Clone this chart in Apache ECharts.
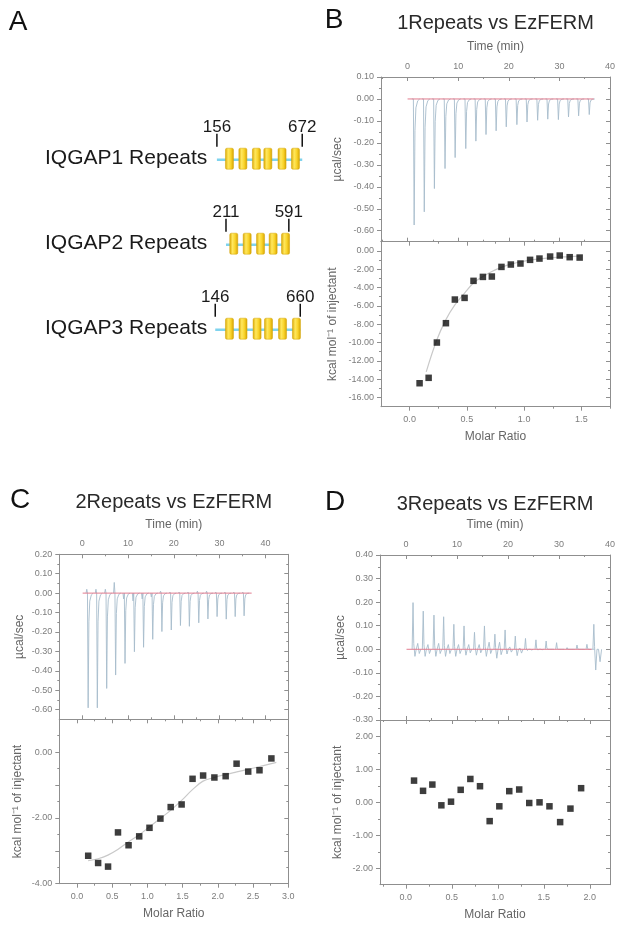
<!DOCTYPE html>
<html><head><meta charset="utf-8">
<script src="https://cdn.jsdelivr.net/npm/echarts@6/dist/echarts.min.js"></script>
<style>html,body{margin:0;padding:0;background:#fff}#c{width:624px;height:928px}</style>
</head><body><div id="c"></div>
<script>
// ---------- Panel A data ----------
const aProteins = ['IQGAP1 Repeats', 'IQGAP2 Repeats', 'IQGAP3 Repeats'];
const aStart = [156, 211, 146];
const aEnd = [672, 591, 660];
const aRepeats = [[232, 313, 395, 464, 550, 631], [258, 339, 420, 496, 571], [232, 314, 399, 468, 553, 637]];

// ---------- Panel B data ----------
const bTime = [1.2, 3.2, 5.2, 7.3, 9.3, 11.4, 13.4, 15.4, 17.4, 19.4, 21.5, 23.5, 25.6, 27.6, 29.7, 31.7, 33.7, 35.8];
const bPeak = [-0.574, -0.514, -0.408, -0.317, -0.267, -0.226, -0.192, -0.162, -0.145, -0.127, -0.117, -0.105, -0.097, -0.092, -0.094, -0.082, -0.077, -0.071];
const bBaseline = [0, 36.8];
const bRatio = [0.087, 0.166, 0.238, 0.317, 0.395, 0.480, 0.558, 0.640, 0.718, 0.802, 0.884, 0.968, 1.052, 1.134, 1.227, 1.311, 1.398, 1.485];
const bHeat = [-14.44, -13.85, -10.0, -7.89, -5.31, -5.13, -3.27, -2.84, -2.80, -1.75, -1.49, -1.38, -0.98, -0.84, -0.62, -0.51, -0.69, -0.73];
const bFitX = [0.145, 0.238, 0.317, 0.395, 0.48, 0.558, 0.64, 0.718, 0.80, 0.884, 0.968, 1.05, 1.134, 1.227, 1.311, 1.398, 1.485];
const bFitY = [-13.2, -9.7, -7.5, -5.9, -4.6, -3.5, -2.8, -2.25, -1.8, -1.45, -1.2, -1.0, -0.87, -0.76, -0.69, -0.62, -0.58];

// ---------- Panel C data ----------
const cTime = [1.2, 3.2, 5.25, 7.2, 9.25, 11.3, 13.3, 15.3, 17.3, 19.35, 21.35, 23.3, 25.35, 27.35, 29.35, 31.35, 33.3, 35.25];
const cPeak = [-0.591, -0.591, -0.491, -0.422, -0.362, -0.302, -0.279, -0.238, -0.198, -0.190, -0.167, -0.171, -0.153, -0.133, -0.121, -0.134, -0.121, -0.117];
const cPre = [0.02, 0.02, 0.02, 0.055, -0.03, -0.04, -0.03, -0.02, 0.01, 0.005, 0.005, 0.005, 0.01, 0.01, 0.005, 0.005, 0.005, 0.005];
const cBaseline = [0.1, 37.0];
const cRatio = [0.160, 0.301, 0.442, 0.583, 0.733, 0.884, 1.030, 1.185, 1.331, 1.486, 1.641, 1.791, 1.951, 2.111, 2.266, 2.431, 2.591, 2.760];
const cHeat = [-3.15, -3.37, -3.48, -2.44, -2.83, -2.56, -2.30, -2.02, -1.67, -1.59, -0.81, -0.71, -0.77, -0.73, -0.35, -0.59, -0.55, -0.19];
const cFitX = [0.16, 0.30, 0.44, 0.58, 0.73, 0.88, 1.03, 1.18, 1.33, 1.49, 1.64, 1.79, 1.95, 2.11, 2.27, 2.43, 2.59, 2.76, 2.83];
const cFitY = [-3.30, -3.24, -3.13, -2.96, -2.73, -2.52, -2.27, -2.02, -1.77, -1.46, -1.14, -0.88, -0.77, -0.68, -0.60, -0.52, -0.44, -0.35, -0.31];

// ---------- Panel D data ----------
const dTime = [1.3, 3.3, 5.4, 7.3, 9.3, 11.3, 13.35, 15.3, 17.35, 19.35, 21.35, 23.35, 25.4, 27.4, 29.45, 31.5, 33.45, 35.4, 36.75];
const dPeak = [0.198, 0.162, 0.145, 0.138, 0.106, 0.099, 0.072, 0.099, 0.064, 0.082, 0.056, 0.046, 0.040, 0.035, 0.028, 0.007, 0.018, 0.021, 0.106];
const dDip = [-0.03, -0.03, -0.03, -0.03, -0.03, -0.025, -0.025, -0.03, -0.038, -0.02, -0.027, -0.005, -0.003, 0, 0, 0, 0, 0, -0.088];
const dBump = [0.025, 0.02, 0.025, 0.02, 0.02, 0.02, 0.02, 0.03, 0.03, 0.01, 0.005, 0, 0, 0, 0, 0, 0, 0, 0];
const dBaseline = [0.1, 36.4];
const dRatio = [0.090, 0.188, 0.289, 0.387, 0.492, 0.597, 0.702, 0.807, 0.912, 1.017, 1.125, 1.233, 1.342, 1.454, 1.562, 1.678, 1.790, 1.906];
const dHeat = [0.66, 0.35, 0.54, -0.09, 0.02, 0.38, 0.71, 0.49, -0.57, -0.12, 0.34, 0.39, -0.02, 0.0, -0.12, -0.60, -0.19, 0.43];

// ---------- Tick values ----------
const timeTicks = [0, 10, 20, 30, 40];
const timeMinor = [-5, 5, 15, 25, 35];
const bFlowTicks = [0.1, 0, -0.1, -0.2, -0.3, -0.4, -0.5, -0.6];
const bFlowMinor = [0.05, -0.05, -0.15, -0.25, -0.35, -0.45, -0.55];
const bHeatTicks = [0, -2, -4, -6, -8, -10, -12, -14, -16];
const bHeatMinor = [-1, -3, -5, -7, -9, -11, -13, -15];
const bRatioTicks = [0, 0.5, 1.0, 1.5];
const bRatioMinor = [0.25, 0.75, 1.25, 1.75];
const cFlowTicks = [0.2, 0.1, 0, -0.1, -0.2, -0.3, -0.4, -0.5, -0.6];
const cFlowMinor = [0.15, 0.05, -0.05, -0.15, -0.25, -0.35, -0.45, -0.55];
const cHeatTicks = [0, -1, -2, -3, -4];
const cHeatLabels = [0, -2, -4];
const cHeatMinor = [0.5, -0.5, -1.5, -2.5, -3.5];
const cRatioTicks = [0, 0.5, 1.0, 1.5, 2.0, 2.5, 3.0];
const cRatioMinor = [0.25, 0.75, 1.25, 1.75, 2.25, 2.75];
const dFlowTicks = [0.4, 0.3, 0.2, 0.1, 0, -0.1, -0.2, -0.3];
const dFlowMinor = [0.35, 0.25, 0.15, 0.05, -0.05, -0.15, -0.25];
const dHeatTicks = [2, 1, 0, -1, -2];
const dHeatMinor = [1.5, 0.5, -0.5, -1.5];
const dRatioTicks = [0, 0.5, 1.0, 1.5, 2.0];
const dRatioMinor = [-0.25, 0.25, 0.75, 1.25, 1.75];

// ---------- Styling ----------
const FONT = '"Liberation Sans", Arial, Helvetica, sans-serif';
const AXC = '#8f8f8f', LBC = '#7c7c7c', NMC = '#666666';
const TRACE = '#a7bccc', BASE = '#e27b8e';
const f2 = v => v.toFixed(2), f1 = v => v.toFixed(1), f0 = v => String(Math.round(v));

const grids = [], xAxes = [], yAxes = [];
function grid(l, t, w, h) { grids.push({left: l, top: t, width: w, height: h}); return grids.length - 1; }
function axis(list, g, pos, min, max, o) {
  const ax = {
    type: 'value', gridIndex: g, position: pos, min: min, max: max,
    axisLine: {show: true, onZero: false, lineStyle: {color: AXC, width: 1}},
    axisTick: {show: true, inside: !!o.inside, length: 4, customValues: o.major, lineStyle: {color: AXC, width: 1}},
    axisLabel: {show: !!o.labels, color: LBC, fontSize: 9, fontFamily: FONT, margin: o.margin || 6},
    splitLine: {show: false}
  };
  if (o.labels) { ax.axisLabel.customValues = o.labels; ax.axisLabel.formatter = o.fmt; }
  if (o.name) {
    ax.name = o.name; ax.nameLocation = 'middle'; ax.nameGap = o.nameGap;
    ax.nameTextStyle = {fontSize: 12, color: NMC, fontFamily: FONT};
  }
  list.push(ax);
  const idx = list.length - 1;
  if (o.minor) list.push({
    type: 'value', gridIndex: g, position: pos, min: min, max: max,
    axisLine: {show: false, onZero: false},
    axisTick: {show: true, inside: !!o.inside, length: 2, customValues: o.minor, lineStyle: {color: AXC, width: 1}},
    axisLabel: {show: false}, splitLine: {show: false}
  });
  return idx;
}

// Panel A grid (hidden axes: residue number vs construct)
const gA = grid(191.1, 116.2, 132.3, 255);
xAxes.push({type: 'value', gridIndex: gA, min: 0, max: 800, show: false});
const aX = xAxes.length - 1;
yAxes.push({type: 'category', gridIndex: gA, data: aProteins, inverse: true, show: false});
const aY = yAxes.length - 1;

// Panel plots
function panel(left, top, w, hTop, hBot, cfg) {
  const gT = grid(left, top, w, hTop);
  const gB = grid(left, top + hTop, w, hBot);
  const tX = axis(xAxes, gT, 'top', cfg.tMin, cfg.tMax, {major: timeTicks, minor: timeMinor, labels: timeTicks, fmt: f0, inside: true, margin: 6, name: 'Time (min)', nameGap: 24});
  axis(xAxes, gT, 'bottom', cfg.tMin, cfg.tMax, {major: timeTicks, minor: timeMinor, inside: true});
  const tY = axis(yAxes, gT, 'left', cfg.fMin, cfg.fMax, {major: cfg.fTicks, minor: cfg.fMinor, labels: cfg.fTicks, fmt: f2, margin: 7, name: 'µcal/sec', nameGap: cfg.gap1});
  axis(yAxes, gT, 'right', cfg.fMin, cfg.fMax, {major: cfg.fTicks, minor: cfg.fMinor, inside: true});
  const bX = axis(xAxes, gB, 'bottom', cfg.rMin, cfg.rMax, {major: cfg.rTicks, minor: cfg.rMinor, labels: cfg.rTicks, fmt: f1, margin: 8, name: 'Molar Ratio', nameGap: 24});
  axis(xAxes, gB, 'top', cfg.rMin, cfg.rMax, {major: cfg.rTicks, minor: cfg.rMinor, inside: true});
  const bY = axis(yAxes, gB, 'left', cfg.hMin, cfg.hMax, {major: cfg.hTicks, minor: cfg.hMinor, labels: cfg.hLabels || cfg.hTicks, fmt: f2, margin: 7, name: 'kcal mol⁻¹ of injectant', nameGap: cfg.gap2});
  axis(yAxes, gB, 'right', cfg.hMin, cfg.hMax, {major: cfg.hTicks, minor: cfg.hMinor, inside: true});
  return {tX, tY, bX, bY};
}

const PB = panel(381, 77, 229, 164.7, 165, {
  tMin: -5.25, tMax: 40, fMin: -0.65, fMax: 0.10, fTicks: bFlowTicks, fMinor: bFlowMinor,
  rMin: -0.25, rMax: 1.75, rTicks: bRatioTicks, rMinor: bRatioMinor,
  hMin: -17, hMax: 1, hTicks: bHeatTicks, hMinor: bHeatMinor, gap1: 37, gap2: 42
});
const PC = panel(59.3, 554.3, 229, 165, 164.4, {
  tMin: -5, tMax: 45, fMin: -0.65, fMax: 0.20, fTicks: cFlowTicks, fMinor: cFlowMinor,
  rMin: -0.25, rMax: 3.0, rTicks: cRatioTicks, rMinor: cRatioMinor,
  hMin: -4, hMax: 1, hTicks: cHeatTicks, hLabels: cHeatLabels, hMinor: cHeatMinor, gap1: 34, gap2: 36
});
const PD = panel(380, 555, 230, 165, 164.7, {
  tMin: -5.1, tMax: 40, fMin: -0.30, fMax: 0.40, fTicks: dFlowTicks, fMinor: dFlowMinor,
  rMin: -0.28, rMax: 2.22, rTicks: dRatioTicks, rMinor: dRatioMinor,
  hMin: -2.5, hMax: 2.5, hTicks: dHeatTicks, hMinor: dHeatMinor, gap1: 33, gap2: 36
});

// ---------- render functions ----------
const yellow = new echarts.graphic.LinearGradient(0, 0, 1, 0, [
  {offset: 0, color: '#d9a600'}, {offset: 0.35, color: '#ffe75e'},
  {offset: 0.65, color: '#fad52c'}, {offset: 1, color: '#d5a100'}]);

function renderDomain(params, api) {
  const i = params.dataIndex;
  const s = api.value(0), row = api.value(1), e = api.value(2);
  const p0 = api.coord([s, row]), p1 = api.coord([e, row]);
  const cy = p0[1];
  const kids = [];
  kids.push({type: 'text', style: {x: 45, y: cy, text: aProteins[i], fontSize: 21, fontFamily: FONT, fill: '#1a1a1a',
    align: 'left', textAlign: 'left', verticalAlign: 'middle', textVerticalAlign: 'middle'}});
  kids.push({type: 'line', shape: {x1: p0[0], y1: cy + 1, x2: p1[0], y2: cy + 1}, style: {stroke: '#7fd3ee', lineWidth: 2.5}});
  aRepeats[i].forEach(function (c) {
    const pc = api.coord([c, row]);
    kids.push({type: 'rect', shape: {x: pc[0] - 4, y: cy - 10.5, width: 8, height: 21, r: 1.5},
      style: {fill: yellow, stroke: '#d2a200', lineWidth: 0.5}});
  });
  [[p0, s], [p1, e]].forEach(function (pp) {
    const p = pp[0];
    kids.push({type: 'line', shape: {x1: p[0], y1: cy - 25, x2: p[0], y2: cy - 12}, style: {stroke: '#111', lineWidth: 1.5}});
    kids.push({type: 'text', style: {x: p[0], y: cy - 31, text: String(pp[1]), fontSize: 17, fontFamily: FONT, fill: '#1a1a1a',
      align: 'center', textAlign: 'center', verticalAlign: 'middle', textVerticalAlign: 'middle'}});
  });
  return {type: 'group', children: kids};
}

// exothermic injection peak: baseline -> sharp peak -> fast recovery
function renderNeg(params, api) {
  const t = api.value(0), p = api.value(1), pre = api.value(2);
  const shape = [[-0.35, 0], [-0.2, pre], [-0.05, 0], [0.1, p], [0.26, 0.25 * p], [0.45, 0.07 * p], [0.8, 0.015 * p], [1.2, 0]];
  const pts = shape.map(function (q) { return api.coord([t + q[0], q[1]]); });
  return {type: 'polyline', shape: {points: pts}, style: {stroke: TRACE, fill: null, lineWidth: 0.9}};
}
// small endothermic peaks with noise
function renderPos(params, api) {
  const t = api.value(0), p = api.value(1), dip = api.value(2), bump = api.value(3);
  const shape = [[-0.1, 0], [0.08, p], [0.22, 0.12 * p], [0.45, dip], [0.7, 0], [1.0, bump], [1.3, 0.6 * dip], [1.6, 0]];
  const pts = shape.map(function (q) { return api.coord([t + q[0], q[1]]); });
  return {type: 'polyline', shape: {points: pts}, style: {stroke: TRACE, fill: null, lineWidth: 0.9}};
}

function zip(a, b) { return a.map(function (v, i) { return [v, b[i]]; }); }
function baseLine(P, range) {
  return {type: 'line', xAxisIndex: P.tX, yAxisIndex: P.tY, data: [[range[0], 0], [range[1], 0]],
    symbol: 'none', lineStyle: {color: BASE, width: 1}, z: 4, silent: true};
}
function fitLine(P, xs, ys) {
  return {type: 'line', xAxisIndex: P.bX, yAxisIndex: P.bY, data: zip(xs, ys), smooth: 0.4,
    symbol: 'none', lineStyle: {color: '#c9c9c9', width: 1.2}, z: 2, silent: true};
}
function points(P, xs, ys) {
  return {type: 'scatter', xAxisIndex: P.bX, yAxisIndex: P.bY, data: zip(xs, ys),
    symbol: 'rect', symbolSize: 6.5, itemStyle: {color: '#0d0d0d'}, z: 5};
}

const series = [
  {type: 'custom', xAxisIndex: aX, yAxisIndex: aY, renderItem: renderDomain,
    data: aProteins.map(function (n, i) { return [aStart[i], i, aEnd[i]]; }), encode: {x: [0, 2], y: 1}},
  {type: 'custom', xAxisIndex: PB.tX, yAxisIndex: PB.tY, renderItem: renderNeg,
    data: bTime.map(function (t, i) { return [t, bPeak[i], 0]; }), encode: {x: 0, y: 1}, z: 3},
  baseLine(PB, bBaseline),
  fitLine(PB, bFitX, bFitY),
  points(PB, bRatio, bHeat),
  {type: 'custom', xAxisIndex: PC.tX, yAxisIndex: PC.tY, renderItem: renderNeg,
    data: cTime.map(function (t, i) { return [t, cPeak[i], cPre[i]]; }), encode: {x: 0, y: 1}, z: 3},
  baseLine(PC, cBaseline),
  fitLine(PC, cFitX, cFitY),
  points(PC, cRatio, cHeat),
  {type: 'custom', xAxisIndex: PD.tX, yAxisIndex: PD.tY, renderItem: renderPos,
    data: dTime.map(function (t, i) { return [t, dPeak[i], dDip[i], dBump[i]]; }), encode: {x: 0, y: 1}, z: 3},
  baseLine(PD, dBaseline),
  points(PD, dRatio, dHeat)
];

function txt(x, y, s, size, color) {
  return {type: 'text', x: x, y: y, style: {text: s, fontSize: size, fontFamily: FONT, fill: color,
    align: 'center', textAlign: 'center', verticalAlign: 'middle', textVerticalAlign: 'middle'}};
}
const graphic = [
  txt(18, 22, 'A', 28, '#111'), txt(334, 20, 'B', 28, '#111'),
  txt(20, 500, 'C', 28, '#111'), txt(335, 502, 'D', 28, '#111'),
  txt(495.5, 23, '1Repeats vs EzFERM', 20, '#2a2a2a'),
  txt(173.8, 502.5, '2Repeats vs EzFERM', 20, '#2a2a2a'),
  txt(495, 504.5, '3Repeats vs EzFERM', 20, '#2a2a2a')
];

const chart = echarts.init(document.getElementById('c'), null, {renderer: 'canvas'});
chart.setOption({animation: false, backgroundColor: '#fff', grid: grids, xAxis: xAxes, yAxis: yAxes, series: series, graphic: graphic});
</script></body></html>
